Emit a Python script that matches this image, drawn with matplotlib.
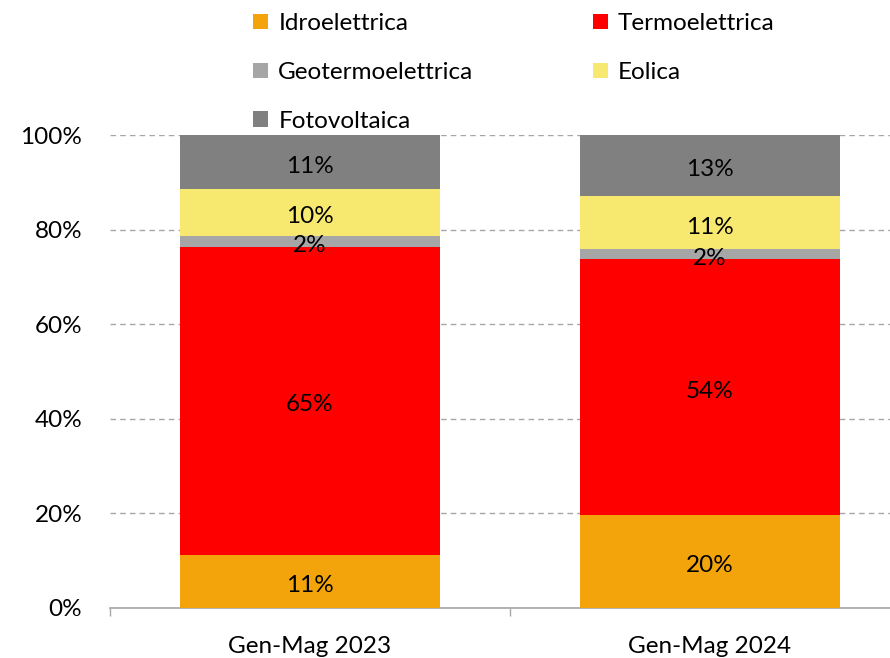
import matplotlib
matplotlib.use("Agg")
import matplotlib.pyplot as plt
import numpy as np
from matplotlib.patches import Patch

plt.rcParams['font.family'] = ['Lato', 'DejaVu Sans']

categories = ["Gen-Mag 2023", "Gen-Mag 2024"]
series = ["Idroelettrica", "Termoelettrica", "Geotermoelettrica", "Eolica", "Fotovoltaica"]
idro = [11.2, 19.7]
termo = [65.2, 54.0]
geo = [2.3, 2.1]
eolica = [9.9, 11.2]
foto = [11.4, 13.0]
colors = ["#F2A40A", "#FF0000", "#A6A6A6", "#F7E870", "#808080"]
yticks = [0, 20, 40, 60, 80, 100]

values = [idro, termo, geo, eolica, foto]

fig = plt.figure(figsize=(8.9, 6.58), dpi=100)
ax = fig.add_axes([110/890, 50/658, 800/890, 473/658])

x = np.arange(len(categories))
bottom = np.zeros(len(categories))
FS = 17.5
for name, vals, col in zip(series, values, colors):
    vals = np.array(vals, dtype=float)
    ax.bar(x, vals, 0.65, bottom=bottom, color=col, label=name, zorder=3)
    for xi, v, b in zip(x, vals, bottom):
        ax.annotate(f"{round(v):.0f}%", (xi, b + v / 2), xytext=(0, -3),
                    textcoords='offset points', ha='center', va='center',
                    fontsize=FS, color='black', zorder=4)
    bottom += vals

ax.set_xlim(-0.5, 1.5)
ax.set_ylim(0, 100)
ax.set_yticks(yticks)
ax.set_yticklabels([f"{t}%" for t in yticks], fontsize=FS)
ax.yaxis.grid(True, linestyle=(0, (4, 3)), color='#A6A6A6', linewidth=1, zorder=0)
ax.tick_params(axis='y', length=0, pad=20)
ax.set_xticks(x)
ax.set_xticklabels(categories, fontsize=FS)
ax.tick_params(axis='x', length=0, pad=20)
ax.set_xticks([-0.5, 0.5, 1.5], minor=True)
ax.tick_params(axis='x', which='minor', length=6, color='#A6A6A6', width=1)
for s in ['top', 'right', 'left']:
    ax.spines[s].set_visible(False)
ax.spines['bottom'].set_color('#A6A6A6')
ax.spines['bottom'].set_linewidth(1.2)

handles = [Patch(facecolor=c, edgecolor='none') for c in colors]
order = [0, 2, 4, 1, 3]
fig.legend([handles[i] for i in order], [series[i] for i in order],
           ncol=2, loc='upper left', bbox_to_anchor=(253/890, 1 - 13/658),
           frameon=False, fontsize=FS, handlelength=0.62, handleheight=0.62,
           handletextpad=0.42, columnspacing=4.9, labelspacing=1.15,
           borderpad=0, borderaxespad=0)

fig.savefig("out.png", dpi=100)
